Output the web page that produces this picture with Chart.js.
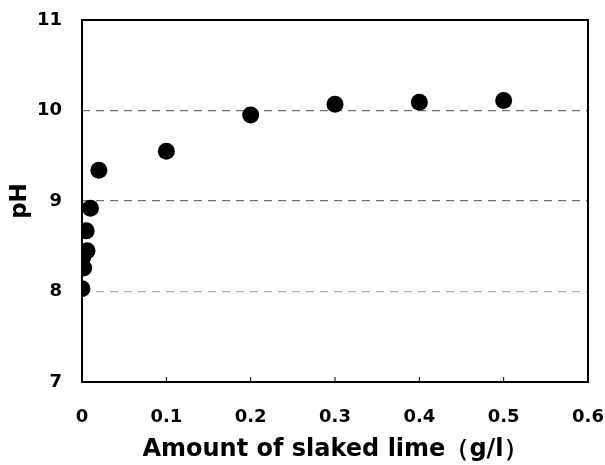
<!DOCTYPE html>
<html>
<head>
<meta charset="utf-8">
<script src="https://cdn.jsdelivr.net/npm/chart.js@4"></script>
<style>
  html, body { margin: 0; padding: 0; background: #fff; }
  #wrap { width: 605px; height: 465px; }
</style>
</head>
<body>
<div id="wrap"><canvas id="phChart"></canvas></div>
<script>
// slaked lime dose (g/l) vs pH
const limeDose = [0, 0.002, 0.001, 0.006, 0.005, 0.01, 0.02, 0.1, 0.2, 0.3, 0.4, 0.5];
const phValues = [8.03, 8.26, 8.38, 8.45, 8.67, 8.92, 9.34, 9.55, 9.95, 10.07, 10.09, 10.11];
const xTicks = [0, 0.1, 0.2, 0.3, 0.4, 0.5, 0.6];
const yTicks = [7, 8, 9, 10, 11];

const FONT = "'DejaVu Sans', sans-serif";

// frame round the plot area + inward ticks on the x axis
const framePlugin = {
  id: 'frame',
  afterDraw(chart) {
    const { ctx, chartArea: a, scales } = chart;
    ctx.save();
    ctx.strokeStyle = '#000';
    ctx.lineWidth = 1;
    scales.x.ticks.forEach(t => {
      const px = scales.x.getPixelForValue(t.value);
      ctx.beginPath();
      ctx.moveTo(px, a.bottom);
      ctx.lineTo(px, a.bottom - 5);
      ctx.stroke();
    });
    ctx.lineWidth = 2;
    ctx.strokeRect(a.left, a.top, a.right - a.left, a.bottom - a.top);
    ctx.restore();
  }
};

// labels may hang over the edges, keep the plot area where padding puts it
const noOverhang = s => {
  s.paddingTop = 0; s.paddingBottom = 0; s.paddingLeft = 0; s.paddingRight = 0;
};

new Chart(document.getElementById('phChart'), {
  type: 'scatter',
  data: {
    datasets: [{
      data: limeDose.map((x, i) => ({ x, y: phValues[i] })),
      backgroundColor: '#000',
      borderWidth: 0,
      pointRadius: 8.5,
      pointHoverRadius: 8.5
    }]
  },
  options: {
    responsive: true, maintainAspectRatio: false,
    animation: false,
    layout: { padding: { top: 20, right: 17, left: 0, bottom: 0 } },
    plugins: { legend: { display: false }, tooltip: { enabled: false } },
    scales: {
      x: {
        min: 0, max: 0.6,
        afterBuildTicks: s => { s.ticks = xTicks.map(v => ({ value: v })); },
        afterFit: s => { s.height = 83; noOverhang(s); },
        grid: { display: false, drawTicks: false },
        border: { display: false },
        ticks: {
          padding: 25,
          color: '#000',
          font: { family: FONT, size: 18, weight: 'bold' },
          callback: v => v === 0 ? '0' : v.toFixed(1)
        },
        title: {
          display: true,
          text: 'Amount of slaked lime（g/l）',
          color: '#000',
          font: { family: FONT, size: 24, weight: 'bold' },
          padding: { top: 0, bottom: 1 }
        }
      },
      y: {
        min: 7, max: 11,
        afterBuildTicks: s => { s.ticks = yTicks.map(v => ({ value: v })); },
        afterFit: s => { s.width = 82; noOverhang(s); },
        grid: {
          drawTicks: false,
          lineWidth: 1.2,
          color: c => {
            const v = c.tick && c.tick.value;
            if (v === 8) return '#b0b0b0';
            if (v === 9 || v === 10) return '#707070';
            return 'rgba(0,0,0,0)';
          }
        },
        border: { display: false, dash: [8, 6] },
        ticks: {
          padding: 20,
          color: '#000',
          font: { family: FONT, size: 18, weight: 'bold' }
        },
        title: {
          display: true,
          text: 'pH',
          color: '#000',
          font: { family: FONT, size: 23, weight: 'bold' },
          padding: { top: 6, bottom: 0 }
        }
      }
    }
  },
  plugins: [framePlugin]
});
</script>
</body>
</html>
